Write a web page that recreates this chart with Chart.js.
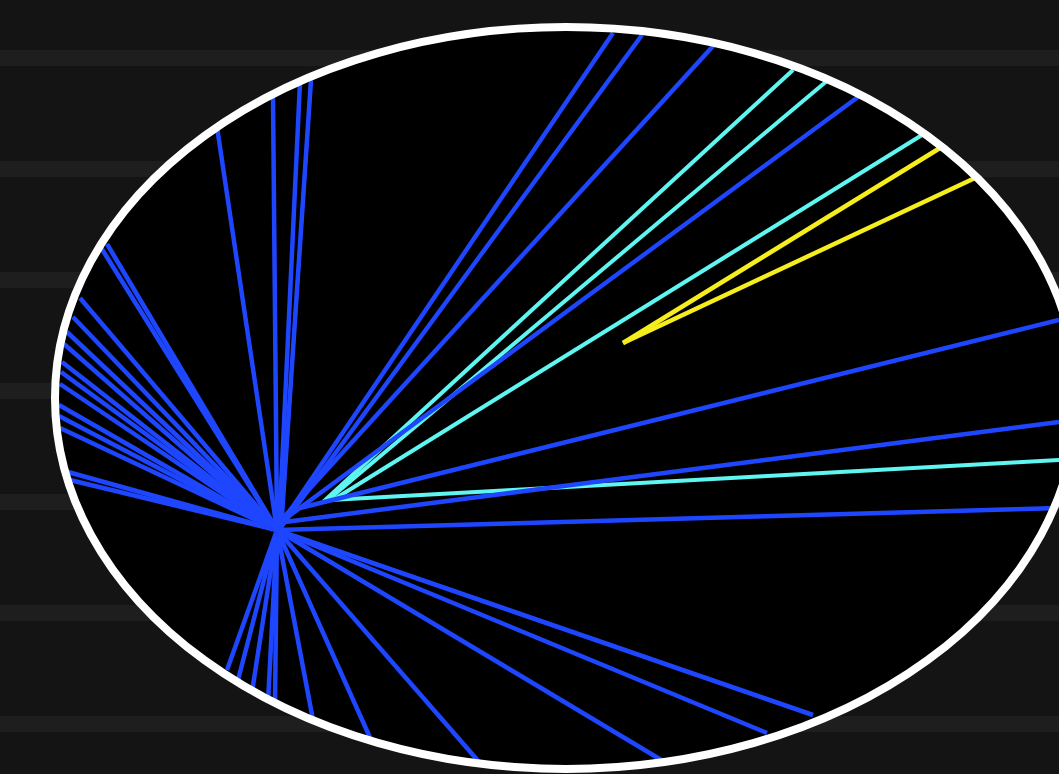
<!DOCTYPE html>
<html>
<head>
<meta charset="utf-8">
<title>Event display</title>
<script src="https://cdn.jsdelivr.net/npm/chart.js@4.4.1/dist/chart.umd.min.js"></script>
<style>
  html, body { margin: 0; padding: 0; }
  body {
    width: 1059px; height: 774px; overflow: hidden;
    background-color: #141414;
    background-image: repeating-linear-gradient(180deg,
      #141414 0px, #141414 50px, #1e1e1e 50px, #1e1e1e 66px, #141414 66px, #141414 111px);
  }
  #wrap { position: relative; width: 1059px; height: 774px; }
</style>
</head>
<body>
<div id="wrap"><canvas id="myChart"></canvas></div>
<script>
"use strict";
// detector outline (data units = picture pixels)
const detectorCenter = [566, 398];
const detectorRadii = [511, 371];

// tracks: [x0, y0, x1, y1]
const blueTracks = [
  [277, 530, 100, 246],
  [277, 530, 107, 244],
  [277, 530, 80, 298],
  [277, 530, 73, 317],
  [277, 530, 67, 332],
  [277, 530, 64, 344],
  [277, 530, 62, 362],
  [277, 530, 61, 372],
  [277, 530, 60, 384],
  [277, 530, 59, 405],
  [277, 530, 59, 416],
  [277, 530, 60, 428],
  [277, 530, 68, 472],
  [277, 530, 70, 480],
  [277, 530, 217, 127],
  [277, 530, 273, 96],
  [279, 530, 300, 82],
  [281, 530, 311, 80],
  [277, 530, 613, 33],
  [279, 530, 642, 35],
  [272, 530, 714, 45],
  [270, 530, 858, 97],
  [300, 508, 1059, 320],
  [285, 522, 1059, 422],
  [277, 530, 1059, 508],
  [277, 530, 813, 715],
  [277, 530, 767, 733],
  [277, 530, 663, 761],
  [277, 530, 480, 763],
  [277, 530, 372, 742],
  [277, 530, 313, 720],
  [277, 530, 268, 702],
  [277, 530, 275, 702],
  [277, 530, 252, 692],
  [277, 530, 238, 680],
  [277, 530, 227, 670]
];
const cyanTracks = [
  [323, 502, 793, 70],
  [328, 500, 828, 80],
  [333, 500, 922, 135],
  [330, 500, 1059, 460]
];
const yellowTracks = [
  [623, 343, 940, 148],
  [623, 343, 975, 178]
];

function trackSets(list, color, width) {
  var out = [];
  for (let i = 0; i < list.length; i++) {
    var t = list[i];
    out.push({
      data: [{x: t[0], y: t[1]}, {x: t[2], y: t[3]}],
      borderColor: color,
      borderWidth: width,
      showLine: true,
      pointRadius: 0,
      borderCapStyle: 'butt'
    });
  }
  return out;
}

function ellipsePath(chart) {
  var sx = chart.scales.x, sy = chart.scales.y;
  var cx = sx.getPixelForValue(detectorCenter[0]);
  var cy = sy.getPixelForValue(detectorCenter[1]);
  var rx = Math.abs(sx.getPixelForValue(detectorCenter[0] + detectorRadii[0]) - cx);
  var ry = Math.abs(sy.getPixelForValue(detectorCenter[1] + detectorRadii[1]) - cy);
  var ctx = chart.ctx;
  ctx.beginPath();
  ctx.ellipse(cx, cy, rx, ry, 0, 0, Math.PI * 2);
}

const detectorPlugin = {
  id: 'detector',
  beforeDatasetsDraw(chart) {
    var ctx = chart.ctx;
    ctx.save();
    ellipsePath(chart);
    ctx.fillStyle = '#000000';
    ctx.fill();
    ctx.clip();
  },
  afterDatasetsDraw(chart) {
    var ctx = chart.ctx;
    ctx.restore();
    ctx.save();
    ellipsePath(chart);
    ctx.lineWidth = 8;
    ctx.strokeStyle = '#ffffff';
    ctx.stroke();
    ctx.restore();
  }
};

function createChart() {
  var sets = []
    .concat(trackSets(blueTracks, '#1f46ff', 4.5))
    .concat(trackSets(cyanTracks, '#5ff6f1', 4))
    .concat(trackSets(yellowTracks, '#f6ee1c', 4.5));

  let ctx = document.getElementById("myChart").getContext("2d");
  var eventChart = new Chart(ctx, {
    type: 'scatter',
    data: { datasets: sets },
    options: {
      responsive: true,
      maintainAspectRatio: false,
      animation: false,
      layout: { padding: 0 },
      plugins: { legend: { display: false }, tooltip: { enabled: false } },
      scales: {
        x: { type: 'linear', min: 0, max: 1059, display: false },
        y: { type: 'linear', min: 0, max: 774, reverse: true, display: false }
      }
    },
    plugins: [detectorPlugin]
  });
  return eventChart;
}

createChart();
</script>
</body>
</html>
